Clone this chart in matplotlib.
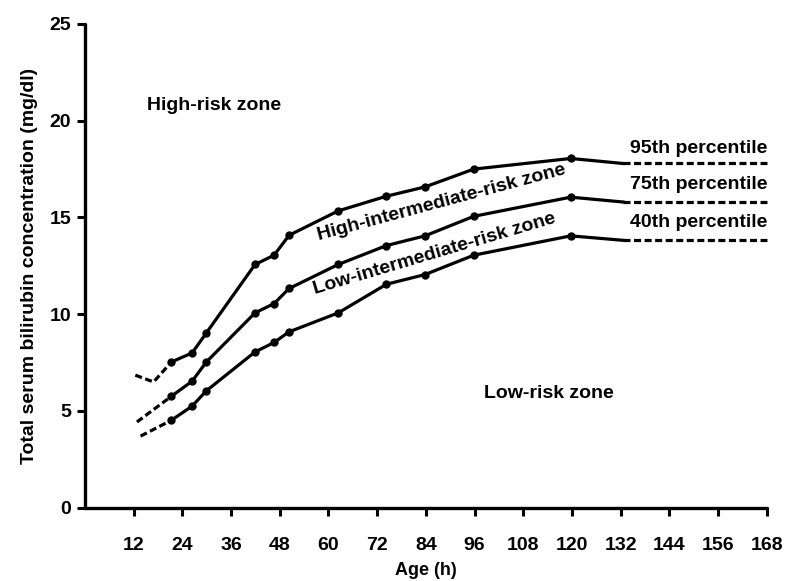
import matplotlib
matplotlib.use("Agg")
import matplotlib.pyplot as plt

# Ages (h) of the plotted points
ages = [21.3, 26.4, 29.9, 41.9, 46.6, 50.3, 62.4, 74.3, 83.8, 95.8, 119.7]
p95 = [7.53, 8.0, 9.03, 12.57, 13.05, 14.08, 15.34, 16.1, 16.58, 17.5, 18.05]
p75 = [5.76, 6.54, 7.53, 10.07, 10.55, 11.33, 12.57, 13.55, 14.05, 15.06, 16.05]
p40 = [4.52, 5.25, 6.04, 8.05, 8.54, 9.09, 10.07, 11.55, 12.05, 13.05, 14.05]

# solid-line end (no marker) and dashed extrapolations
end_age = 132.6
end_vals = {"95": 17.79, "75": 15.8, "40": 13.82}
right_age = 168
left_dash_ages = {"95": [12.4, 16.9, 21.3], "75": [12.8, 21.3], "40": [13.7, 21.3]}
left_dash_vals = {"95": [6.85, 6.5, 7.53], "75": [4.43, 5.76], "40": [3.7, 4.52]}

x_ticks = [12, 24, 36, 48, 60, 72, 84, 96, 108, 120, 132, 144, 156, 168]
y_ticks = [0, 5, 10, 15, 20, 25]

FONT = "Liberation Sans"
plt.rcParams['font.family'] = [FONT, 'DejaVu Sans']
plt.rcParams['font.weight'] = 'bold'

fig = plt.figure(figsize=(7.86, 5.81), dpi=100)
ax = fig.add_axes([85/786, 1-507.7/581, (766.7-85)/786, (507.7-24)/581])

lw = 2.3
dash = (0, (2.2, 1.1))
series = [("95", p95), ("75", p75), ("40", p40)]
for key, vals in series:
    ax.plot(ages + [end_age], vals + [end_vals[key]], color='black', lw=lw,
            solid_joinstyle='round', clip_on=False)
    ax.plot(ages, vals, 'o', color='black', ms=5, clip_on=False)
    ax.plot([end_age, right_age], [end_vals[key], end_vals[key]], color='black',
            lw=lw, linestyle=dash, dash_capstyle='butt', clip_on=False)
    ax.plot(left_dash_ages[key], left_dash_vals[key], color='black', lw=lw,
            linestyle=dash, clip_on=False)

ax.set_xlim(0, 168)
ax.set_ylim(0, 25)
ax.set_xticks(x_ticks)
ax.set_xticklabels([str(t) for t in x_ticks])
ax.set_yticks(y_ticks)
ax.set_yticklabels([str(t) for t in y_ticks])
for s in ['top', 'right']:
    ax.spines[s].set_visible(False)
for s in ['left', 'bottom']:
    ax.spines[s].set_linewidth(2.4)
    ax.spines[s].set_capstyle('round')
ax.tick_params(axis='both', width=2.2, length=6, labelsize=14, color='black')
ax.tick_params(axis='x', pad=15)
ax.tick_params(axis='y', pad=4)
for lab in ax.get_xticklabels() + ax.get_yticklabels():
    lab.set_fontweight('bold')

ax.set_xlabel("Age (h)", fontsize=13, fontweight='bold', labelpad=6)
ax.set_ylabel("Total serum bilirubin concentration (mg/dl)", fontsize=14,
              fontweight='bold', labelpad=8)

tk = dict(fontsize=14, fontweight='bold', color='black')
ax.text(15.2, 20.8, "High-risk zone", ha='left', va='center', **tk)
ax.text(98.4, 5.92, "Low-risk zone", ha='left', va='center', **tk)
ax.text(134.2, 18.55, "95th percentile", ha='left', va='center', **tk)
ax.text(134.2, 16.72, "75th percentile", ha='left', va='center', **tk)
ax.text(134.2, 14.75, "40th percentile", ha='left', va='center', **tk)
ax.text(88.0, 15.75, "High-intermediate-risk zone", ha='center', va='center',
        rotation=15, rotation_mode='anchor', **tk)
ax.text(86.1, 13.1, "Low-intermediate-risk zone", ha='center', va='center',
        rotation=16.5, rotation_mode='anchor', **tk)

fig.savefig("out.png", dpi=100)
